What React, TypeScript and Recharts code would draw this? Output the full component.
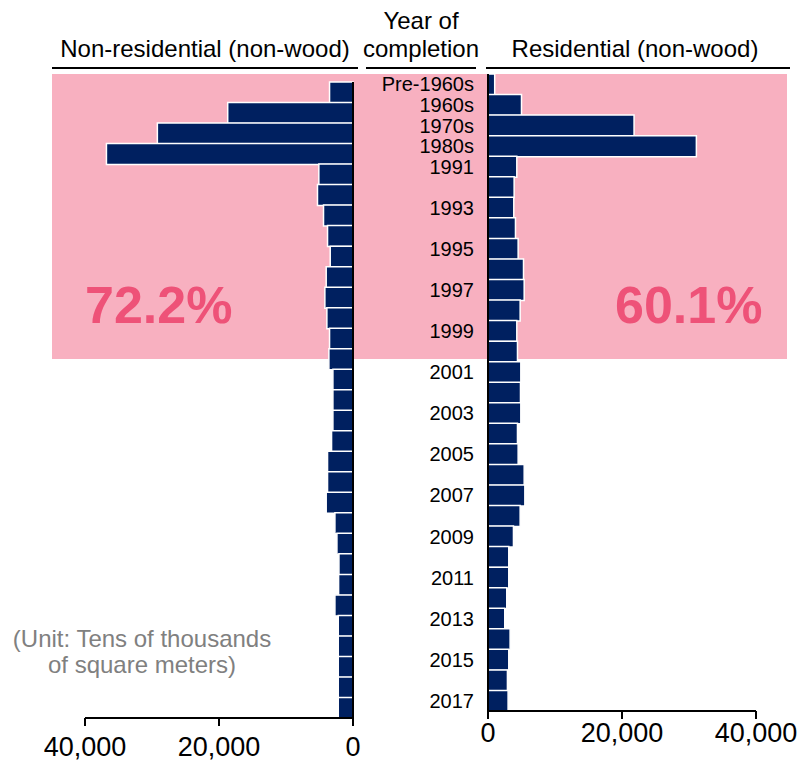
import React from 'react';
import { BarChart, Bar, XAxis, YAxis } from 'recharts';

// year of completion (1981-1990 is included in "1980s")
const CATEGORIES = [
  'Pre-1960s', '1960s', '1970s', '1980s',
  '1991', '1992', '1993', '1994', '1995', '1996', '1997', '1998', '1999', '2000',
  '2001', '2002', '2003', '2004', '2005', '2006', '2007', '2008', '2009', '2010',
  '2011', '2012', '2013', '2014', '2015', '2016', '2017',
];

// labels shown in the middle column
const TICK_LABELS = [
  'Pre-1960s', '1960s', '1970s', '1980s',
  '1991', '', '1993', '', '1995', '', '1997', '', '1999', '',
  '2001', '', '2003', '', '2005', '', '2007', '', '2009', '',
  '2011', '', '2013', '', '2015', '', '2017',
];

// tens of thousands of square meters
const NON_RESIDENTIAL = [
  3500, 18700, 29200, 36800,
  5100, 5300, 4400, 3800, 3400, 4000, 4200, 3900, 3500, 3600,
  3000, 3000, 3000, 3200, 3800, 3800, 4000, 2700, 2400, 2100,
  2150, 2700, 2200, 2200, 2200, 2200, 2200,
];

const RESIDENTIAL = [
  1000, 5000, 21800, 31100,
  4300, 3900, 3850, 4100, 4500, 5300, 5400, 4800, 4300, 4400,
  4900, 4850, 4900, 4400, 4500, 5400, 5500, 4800, 3800, 3100,
  3100, 2800, 2500, 3300, 3100, 2900, 3000,
];

const AXIS_TICKS = [0, 20000, 40000];

const data = CATEGORIES.map((category, i) => ({
  category,
  nonResidential: NON_RESIDENTIAL[i],
  residential: RESIDENTIAL[i],
}));

const NAVY = '#002060';
const PINK_BAND = '#F8B0C0';
const PINK_TEXT = '#EE5278';
const FONT = '"Liberation Sans", Arial, Helvetica, sans-serif';

const fmt = (v: number) => v.toLocaleString('en-US');

const YearTick = ({ y, payload }: any) => {
  const idx = CATEGORIES.indexOf(payload.value);
  return (
    <text x={474} y={y} dy="0.36em" textAnchor="end" fontSize={20} fill="#000">
      {TICK_LABELS[idx]}
    </text>
  );
};

const axisLine = { stroke: '#000', strokeWidth: 2 };

export default function App() {
  return (
    <div style={{ position: 'absolute', left: 0, top: 0, width: 800, height: 761, fontFamily: FONT, background: '#fff', overflow: 'hidden' }}>
      {/* aged stock band (completed up to 2000) */}
      <div style={{ position: 'absolute', left: 52, top: 74, width: 735, height: 285, background: PINK_BAND }} />

      <div style={{ position: 'absolute', left: 0, top: 0 }}>
        <BarChart
          width={800}
          height={761}
          data={data}
          layout="vertical"
          barCategoryGap={0}
          margin={{ top: 82, right: 446, bottom: 3, left: 85 }}
        >
          <XAxis
            type="number"
            reversed
            domain={[0, 40000]}
            ticks={AXIS_TICKS}
            tickFormatter={fmt}
            height={40}
            tickSize={8}
            tickMargin={11}
            axisLine={axisLine}
            tickLine={axisLine}
            tick={{ fontSize: 27, fill: '#000' }}
          />
          <YAxis
            type="category"
            dataKey="category"
            orientation="right"
            width={1}
            tick={false}
            tickLine={false}
            axisLine={axisLine}
          />
          <Bar dataKey="nonResidential" fill={NAVY} stroke="#fff" strokeWidth={1.5} isAnimationActive={false} />
        </BarChart>
      </div>

      <div style={{ position: 'absolute', left: 0, top: 0 }}>
        <BarChart
          width={800}
          height={761}
          data={data}
          layout="vertical"
          barCategoryGap={0}
          margin={{ top: 74, right: 44, bottom: 10, left: 368 }}
        >
          <XAxis
            type="number"
            domain={[0, 40000]}
            ticks={AXIS_TICKS}
            tickFormatter={fmt}
            height={40}
            tickSize={8}
            tickMargin={4}
            axisLine={axisLine}
            tickLine={axisLine}
            tick={{ fontSize: 27, fill: '#000' }}
          />
          <YAxis
            type="category"
            dataKey="category"
            width={120}
            interval={0}
            tick={<YearTick />}
            tickLine={false}
            axisLine={axisLine}
          />
          <Bar dataKey="residential" fill={NAVY} stroke="#fff" strokeWidth={1.5} isAnimationActive={false} />
        </BarChart>
      </div>

      <svg width={800} height={761} style={{ position: 'absolute', left: 0, top: 0, pointerEvents: 'none' }}>
        <g fontSize={24} fill="#000" textAnchor="middle">
          <text x={205} y={57}>Non-residential (non-wood)</text>
          <text x={421} y={29}>Year of</text>
          <text x={421} y={57}>completion</text>
          <text x={635} y={57}>Residential (non-wood)</text>
        </g>
        <line x1={52} x2={358} y1={68} y2={68} stroke="#000" strokeWidth={2} />
        <line x1={366} x2={476} y1={68} y2={68} stroke="#000" strokeWidth={2} />
        <line x1={486} x2={790} y1={68} y2={68} stroke="#000" strokeWidth={2} />

        <text x={85} y={323} fontSize={52} fontWeight="bold" fill={PINK_TEXT}>72.2%</text>
        <text x={615} y={323} fontSize={52} fontWeight="bold" fill={PINK_TEXT}>60.1%</text>

        <g fontSize={24} fill="#808080" textAnchor="middle">
          <text x={142} y={647}>(Unit: Tens of thousands</text>
          <text x={142} y={673}>of square meters)</text>
        </g>
      </svg>
    </div>
  );
}
